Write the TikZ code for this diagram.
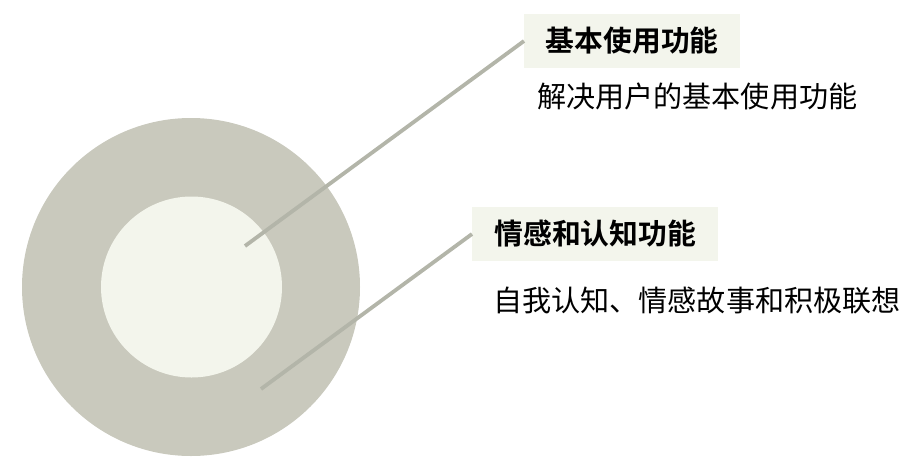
\documentclass[tikz,border=0pt]{standalone}
\usepackage{fontspec}
\newfontfamily\cjk{Noto Sans CJK SC}
\newfontfamily\cjkb{Noto Sans CJK SC Bold}
\definecolor{outerc}{HTML}{C9C9BD}
\definecolor{innerc}{HTML}{F3F5EC}
\definecolor{linec}{HTML}{B3B5A9}
\begin{document}
\begin{tikzpicture}[x=1pt,y=-1pt,
  ring/.style={circle,inner sep=0pt,draw=none},
  conn/.style={draw=linec,line width=3.8pt},
  titlebox/.style={fill=innerc,inner xsep=20pt,inner ysep=0pt,minimum height=54pt,anchor=west,font=\cjkb\fontsize{28.8}{30}\selectfont,text=black},
  desc/.style={anchor=west,inner sep=0pt,text=black,font=\cjk\fontsize{29.1}{31}\selectfont}]
\useasboundingbox (0,0) rectangle (912,466);
\node[ring,fill=outerc,minimum size=338pt] (outer) at (191,287) {};
\node[ring,fill=innerc,minimum size=181pt] (inner) at (191.5,287) {};
\coordinate (p1) at (245,246);
\coordinate (p2) at (261,389);
\node[titlebox,minimum width=216pt] (t1) at (524,41) {基本使用功能};
\node[titlebox,minimum width=246pt] (t2) at (472,234) {情感和认知功能};
\node[desc] (d1) at (537,96) {解决用户的基本使用功能};
\node[desc] (d2) at (493,301) {自我认知、情感故事和积极联想};
\draw[conn] (p1) -- (t1.west);
\draw[conn] (p2) -- (t2.west);
\end{tikzpicture}
\end{document}
